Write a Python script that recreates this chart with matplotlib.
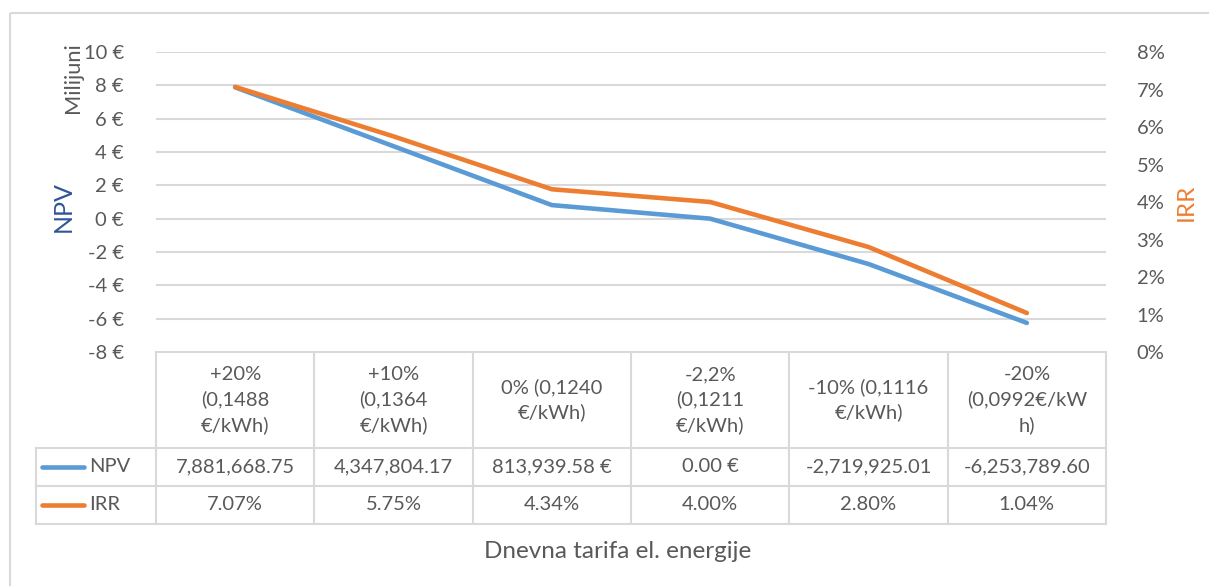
import numpy as np
import matplotlib.pyplot as plt
from matplotlib.patches import Rectangle

plt.rcParams['font.family'] = ['Lato', 'DejaVu Sans']

# podaci
kategorije = ['+20%\n(0,1488\n€/kWh)', '+10%\n(0,1364\n€/kWh)', '0% (0,1240\n€/kWh)',
              '-2,2%\n(0,1211\n€/kWh)', '-10% (0,1116\n€/kWh)', '-20%\n(0,0992€/kW\nh)']
npv = [7881668.75, 4347804.17, 813939.58, 0.00, -2719925.01, -6253789.60]
irr = [7.07, 5.75, 4.34, 4.00, 2.80, 1.04]
npv_txt = ['7,881,668.75', '4,347,804.17', '813,939.58 €', '0.00 €', '-2,719,925.01', '-6,253,789.60']
irr_txt = ['7.07%', '5.75%', '4.34%', '4.00%', '2.80%', '1.04%']
npv_ticks = [-8, -6, -4, -2, 0, 2, 4, 6, 8, 10]
irr_ticks = [0, 1, 2, 3, 4, 5, 6, 7, 8]

plava = '#5B9BD5'
narancasta = '#ED7D31'
siva = '#595959'
mreza = '#D9D9D9'
fs = 14.5

W, H = 1209, 586
fig = plt.figure(figsize=(W / 100, H / 100), dpi=100)

# okvir za tablicu i natpise u pikselima
ov = fig.add_axes([0, 0, 1, 1])
ov.set_xlim(0, W)
ov.set_ylim(H, 0)
ov.axis('off')
ov.add_patch(Rectangle((10, 13), 1250, 700, fill=False, ec=mreza, lw=1.5))

L, R, T, B = 156, 1106, 52, 352
ax = fig.add_axes([L / W, 1 - B / H, (R - L) / W, (B - T) / H])
x = np.arange(len(npv)) + 0.5
ax.set_xlim(0, len(npv))
ax.set_ylim(-8, 10)
ax.set_yticks(npv_ticks)
ax.set_yticklabels([f'{t} €' for t in npv_ticks], color=siva, fontsize=fs)
ax.tick_params(axis='y', length=0, pad=23)
ax.set_xticks([])
ax.grid(axis='y', color=mreza, lw=1.5)
for s in ax.spines.values():
    s.set_visible(False)
ax.plot(x, np.array(npv) / 1e6, color=plava, lw=3.3, solid_capstyle='round', solid_joinstyle='round', zorder=3)

ax2 = ax.twinx()
ax2.set_ylim(0, 8)
ax2.set_yticks(irr_ticks)
ax2.set_yticklabels([f'{t}%' for t in irr_ticks], color=siva, fontsize=fs)
ax2.tick_params(axis='y', length=0, pad=22)
for s in ax2.spines.values():
    s.set_visible(False)
ax2.plot(x, irr, color=narancasta, lw=3.3, solid_capstyle='round', solid_joinstyle='round', zorder=3)

# naslovi osi
ov.text(73, 78, 'Milijuni', rotation=90, color=siva, fontsize=15.7, ha='center', va='center')
ov.text(63, 207, 'NPV', rotation=90, color='#2F5597', fontsize=18, ha='center', va='center')
ov.text(1186, 202, 'IRR', rotation=90, color=narancasta, fontsize=17.5, ha='center', va='center')
ov.text(618, 552, 'Dnevna tarifa el. energije', color=siva, fontsize=17.5, ha='center', va='center')

# tablica podataka
cw = (R - L) / len(npv)
r0, r1, r2, r3 = 352, 448, 486, 524
lk = dict(color=mreza, lw=1.5)
ov.plot([L, R], [r0, r0], **lk)
for yy in (r1, r2, r3):
    ov.plot([36, R], [yy, yy], **lk)
ov.plot([36, 36], [r1, r3], **lk)
for k in range(len(npv) + 1):
    ov.plot([L + k * cw, L + k * cw], [r0, r3], **lk)
for i in range(len(npv)):
    cx = L + (i + 0.5) * cw
    ov.text(cx, (r0 + r1) / 2, kategorije[i], ha='center', va='center', color=siva,
            fontsize=fs, linespacing=1.5)
    ov.text(cx, (r1 + r2) / 2, npv_txt[i], ha='center', va='center', color=siva, fontsize=fs)
    ov.text(cx, (r2 + r3) / 2, irr_txt[i], ha='center', va='center', color=siva, fontsize=fs)
for yy, boja, ime in [((r1 + r2) / 2, plava, 'NPV'), ((r2 + r3) / 2, narancasta, 'IRR')]:
    ov.plot([42, 84], [yy, yy], color=boja, lw=3.3, solid_capstyle='round')
    ov.text(89, yy, ime, ha='left', va='center', color=siva, fontsize=fs)

plt.savefig('out.png', dpi=100)
